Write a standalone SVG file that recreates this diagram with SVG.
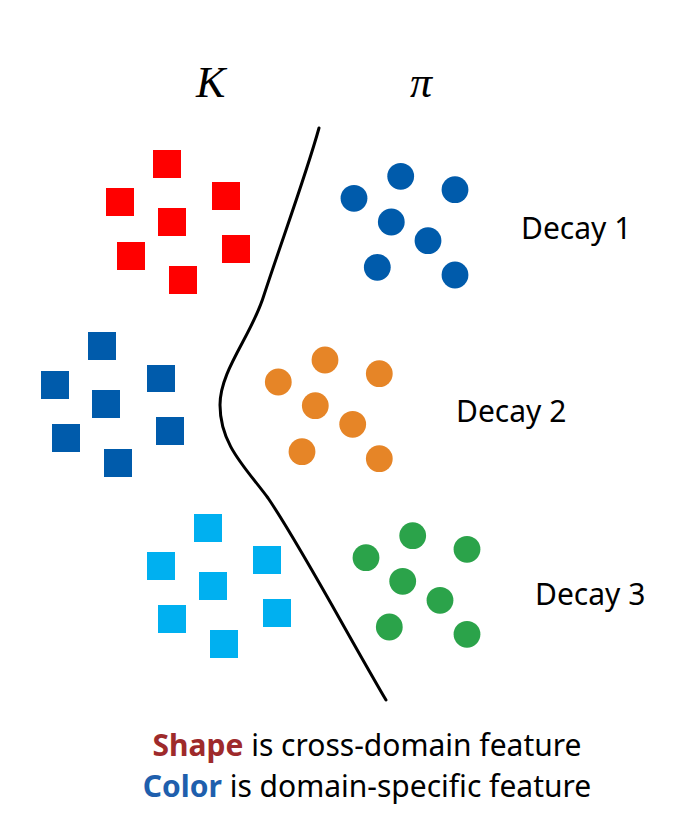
<svg xmlns="http://www.w3.org/2000/svg" width="692" height="814" viewBox="0 0 692 814">
<style>
.bg{fill:#ffffff}
.red{fill:#FF0000}
.blue{fill:#005BAB}
.lblue{fill:#00B0F0}
.orange{fill:#E68527}
.green{fill:#2BA34A}
.lbl{font-family:"Noto Sans","Open Sans","Liberation Sans",sans-serif;font-size:30px;fill:#000}
.sym{font-family:"Liberation Serif","DejaVu Serif",serif;font-style:italic;font-size:44px;fill:#000}
.boundary{fill:none;stroke:#000;stroke-width:3;stroke-linecap:round}
</style>
<rect class="bg" x="0" y="0" width="692" height="814"/>
<g id="label-K"><text class="sym" x="196" y="97">K</text></g>
<g id="label-pi"><text class="sym" x="410" y="97">π</text></g>
<g id="connectors">
<path class="boundary" d="M319,128 C306,175 282,240 264,295 C252,335 220,370 220,405 C220,445 246,468 268,498 C300,545 345,630 386,700"/>
</g>
<g id="K-decay1">
<rect class="red" x="153" y="150" width="28" height="28"/>
<rect class="red" x="106" y="188" width="28" height="28"/>
<rect class="red" x="212" y="182" width="28" height="28"/>
<rect class="red" x="158" y="208" width="28" height="28"/>
<rect class="red" x="117" y="242" width="28" height="28"/>
<rect class="red" x="222" y="235" width="28" height="28"/>
<rect class="red" x="169" y="266" width="28" height="28"/>
</g>
<g id="K-decay2">
<rect class="blue" x="88" y="332" width="28" height="28"/>
<rect class="blue" x="41" y="371" width="28" height="28"/>
<rect class="blue" x="147" y="365" width="28" height="27"/>
<rect class="blue" x="92" y="390" width="28" height="28"/>
<rect class="blue" x="52" y="424" width="28" height="28"/>
<rect class="blue" x="156" y="417" width="28" height="28"/>
<rect class="blue" x="104" y="449" width="28" height="28"/>
</g>
<g id="K-decay3">
<rect class="lblue" x="194" y="514" width="28" height="28"/>
<rect class="lblue" x="147" y="552" width="28" height="28"/>
<rect class="lblue" x="253" y="546" width="28" height="28"/>
<rect class="lblue" x="199" y="572" width="28" height="28"/>
<rect class="lblue" x="158" y="605" width="28" height="28"/>
<rect class="lblue" x="263" y="599" width="28" height="28"/>
<rect class="lblue" x="210" y="630" width="28" height="28"/>
</g>
<g id="pi-decay1">
<circle class="blue" cx="400.7" cy="176.3" r="13.4"/>
<circle class="blue" cx="354" cy="198.3" r="13.4"/>
<circle class="blue" cx="455" cy="189.7" r="13.4"/>
<circle class="blue" cx="391.3" cy="222" r="13.4"/>
<circle class="blue" cx="428" cy="240.7" r="13.4"/>
<circle class="blue" cx="377.3" cy="267.3" r="13.4"/>
<circle class="blue" cx="455" cy="275" r="13.4"/>
</g>
<g id="pi-decay2">
<circle class="orange" cx="325" cy="360" r="13.4"/>
<circle class="orange" cx="278.3" cy="382" r="13.4"/>
<circle class="orange" cx="379.3" cy="373.7" r="13.4"/>
<circle class="orange" cx="315.3" cy="405.7" r="13.4"/>
<circle class="orange" cx="352.7" cy="424.3" r="13.4"/>
<circle class="orange" cx="302" cy="451.7" r="13.4"/>
<circle class="orange" cx="379.3" cy="458.7" r="13.4"/>
</g>
<g id="pi-decay3">
<circle class="green" cx="412.7" cy="535.7" r="13.4"/>
<circle class="green" cx="366" cy="557.7" r="13.4"/>
<circle class="green" cx="467" cy="549.3" r="13.4"/>
<circle class="green" cx="402.7" cy="581.3" r="13.4"/>
<circle class="green" cx="440" cy="600.3" r="13.4"/>
<circle class="green" cx="389.3" cy="627" r="13.4"/>
<circle class="green" cx="467" cy="634.3" r="13.4"/>
</g>
<g id="decay1-label"><text class="lbl" x="521" y="239">Decay 1</text></g>
<g id="decay2-label"><text class="lbl" x="456" y="422">Decay 2</text></g>
<g id="decay3-label"><text class="lbl" x="535" y="605">Decay 3</text></g>
<g id="legend">
<text class="lbl" x="367" y="756" text-anchor="middle"><tspan font-weight="bold" fill="#9E2A2B">Shape</tspan> is cross-domain feature</text>
<text class="lbl" x="367" y="797" text-anchor="middle"><tspan font-weight="bold" fill="#1F5FAD">Color</tspan> is domain-specific feature</text>
</g>
</svg>
